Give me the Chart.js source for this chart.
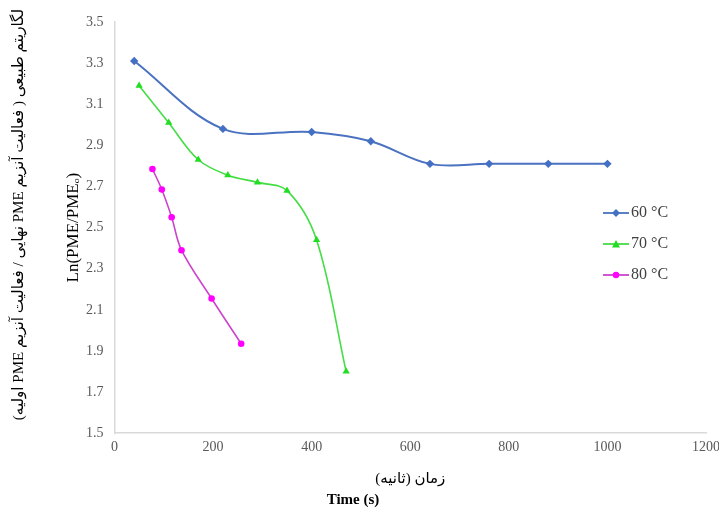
<!DOCTYPE html>
<html><head><meta charset="utf-8">
<script src="https://cdn.jsdelivr.net/npm/chart.js@4"></script>
<style>html,body{margin:0;padding:0;background:#fff;}#wrap{position:relative;width:719px;height:512px;}</style>
</head><body><div id="wrap"><canvas id="c"></canvas></div>
<script>
const seriesNames = ['60 °C', '70 °C', '80 °C'];
const time60 = [40, 220, 400, 520, 640, 760, 880, 1000];
const ln60 = [3.31, 2.98, 2.965, 2.92, 2.81, 2.81, 2.81, 2.81];
const time70 = [50, 110, 170, 230, 290, 350, 410, 470];
const ln70 = [3.19, 3.01, 2.83, 2.755, 2.72, 2.68, 2.44, 1.80];
const time80 = [77, 96, 116, 136, 197, 257];
const ln80 = [2.785, 2.685, 2.55, 2.39, 2.155, 1.935];
const xTickValues = [0, 200, 400, 600, 800, 1000, 1200];
const yTickValues = [1.5, 1.7, 1.9, 2.1, 2.3, 2.5, 2.7, 2.9, 3.1, 3.3, 3.5];

const yTitle = 'Ln(PME/PMEₒ)';
const yTitleFa = '\u202Bلگاریتم طبیعی ( فعالیت آنزیم PME نهایی / فعالیت آنزیم PME اولیه)\u202C';
const xTitleFa = '\u202Bزمان (ثانیه)\u202C';
const xTitleEn = 'Time (s)';

const SERIF = "'Liberation Serif', 'Times New Roman', serif";
const FA = "'Liberation Serif', 'DejaVu Sans', sans-serif";

const colors = [
  {line: '#4a72c0', point: '#4470c4', style: 'rectRot', r: 4.2},
  {line: '#44dd44', point: '#22dd22', style: 'triangle', r: 4.2},
  {line: '#cc44cc', point: '#ff00ff', style: 'circle', r: 3.3}
];

function icon(c) {
  const cv = document.createElement('canvas');
  cv.width = 26; cv.height = 12;
  const g = cv.getContext('2d');
  g.strokeStyle = c.line; g.lineWidth = 1.8;
  g.beginPath(); g.moveTo(0, 6); g.lineTo(26, 6); g.stroke();
  g.fillStyle = c.point; g.beginPath();
  if (c.style === 'rectRot') { g.moveTo(13, 2); g.lineTo(17, 6); g.lineTo(13, 10); g.lineTo(9, 6); g.closePath(); }
  else if (c.style === 'triangle') { g.moveTo(13, 2); g.lineTo(17, 9.5); g.lineTo(9, 9.5); g.closePath(); }
  else { g.arc(13, 6, 3.2, 0, Math.PI * 2); }
  g.fill();
  return cv;
}
const icons = colors.map(icon);

const pts = (xs, ys) => xs.map((x, i) => ({x, y: ys[i]}));
const series = [[time60, ln60], [time70, ln70], [time80, ln80]];

const datasets = series.map((s, i) => ({
  label: seriesNames[i],
  data: pts(s[0], s[1]),
  borderColor: colors[i].line,
  backgroundColor: colors[i].point,
  pointBackgroundColor: colors[i].point,
  pointBorderColor: colors[i].point,
  pointStyle: colors[i].style,
  pointRadius: colors[i].r,
  pointBorderWidth: 0,
  borderWidth: i === 0 ? 2 : 1.6,
  tension: 0.35,
  fill: false
}));

const LEG_LEFT = 594, LEG_TOP = 190, FA_SHIFT = 13;
const layoutTweak = {
  id: 'layoutTweak',
  afterLayout(chart) {
    const lg = chart.legend;
    if (lg) {
      lg.left = LEG_LEFT; lg.right = LEG_LEFT + 120; lg.width = 120;
      lg.top = LEG_TOP; lg.bottom = LEG_TOP + 150; lg.height = 150;
    }
    chart.boxes.forEach(b => {
      if (b.options && b.options.text === yTitleFa) { b.top -= FA_SHIFT; b.bottom -= FA_SHIFT; }
    });
  }
};

new Chart(document.getElementById('c'), {
  type: 'line',
  data: {datasets},
  plugins: [layoutTweak],
  options: {
    responsive: true,
    maintainAspectRatio: false,
    animation: false,
    layout: {padding: {top: 22, right: 13, bottom: 0, left: 0}},
    plugins: {
      legend: {
        position: 'chartArea',
        align: 'start',
        labels: {
          usePointStyle: true,
          pointStyleWidth: 14,
          padding: 15,
          color: '#404040',
          font: {family: SERIF, size: 16},
          generateLabels: (chart) => chart.data.datasets.map((ds, i) => ({
            text: ds.label, fillStyle: ds.pointBackgroundColor, strokeStyle: ds.borderColor,
            lineWidth: 0, pointStyle: icons[i], hidden: false, datasetIndex: i, fontColor: '#404040'
          }))
        }
      },
      tooltip: {enabled: false},
      title: {
        display: true, position: 'bottom', text: xTitleEn, color: '#000',
        font: {family: SERIF, size: 15, weight: 'bold'}, padding: {top: 0, bottom: 3}
      },
      subtitle: {
        display: true, position: 'left', text: yTitleFa, color: '#000', fullSize: false,
        font: {family: FA, size: 15.4}, padding: {top: 10, bottom: 2}
      }
    },
    scales: {
      x: {
        type: 'linear', min: 0, max: 1200,
        afterBuildTicks: (s) => { s.ticks = xTickValues.map(v => ({value: v})); },
        afterFit: (s) => { s.paddingRight = 0; },
        grid: {display: false, drawTicks: false},
        border: {display: true, color: '#d9d9d9', width: 1.5},
        ticks: {color: '#595959', font: {family: SERIF, size: 14}, padding: 6, maxRotation: 0, callback: (v) => String(v)},
        title: {display: true, text: xTitleFa, color: '#000', font: {family: FA, size: 15}, padding: {top: 8, bottom: 3}}
      },
      y: {
        type: 'linear', min: 1.5, max: 3.5,
        afterBuildTicks: (s) => { s.ticks = yTickValues.map(v => ({value: v})); },
        afterFit: (s) => { s.width = 84; },
        grid: {display: false, drawTicks: false},
        border: {display: true, color: '#d9d9d9', width: 1.5},
        ticks: {color: '#595959', font: {family: SERIF, size: 14}, padding: 11, callback: (v) => Number(v).toFixed(1)},
        title: {display: true, text: yTitle, color: '#000', font: {family: SERIF, size: 17}, padding: {top: 33, bottom: 2}}
      }
    }
  }
});
</script></body></html>
